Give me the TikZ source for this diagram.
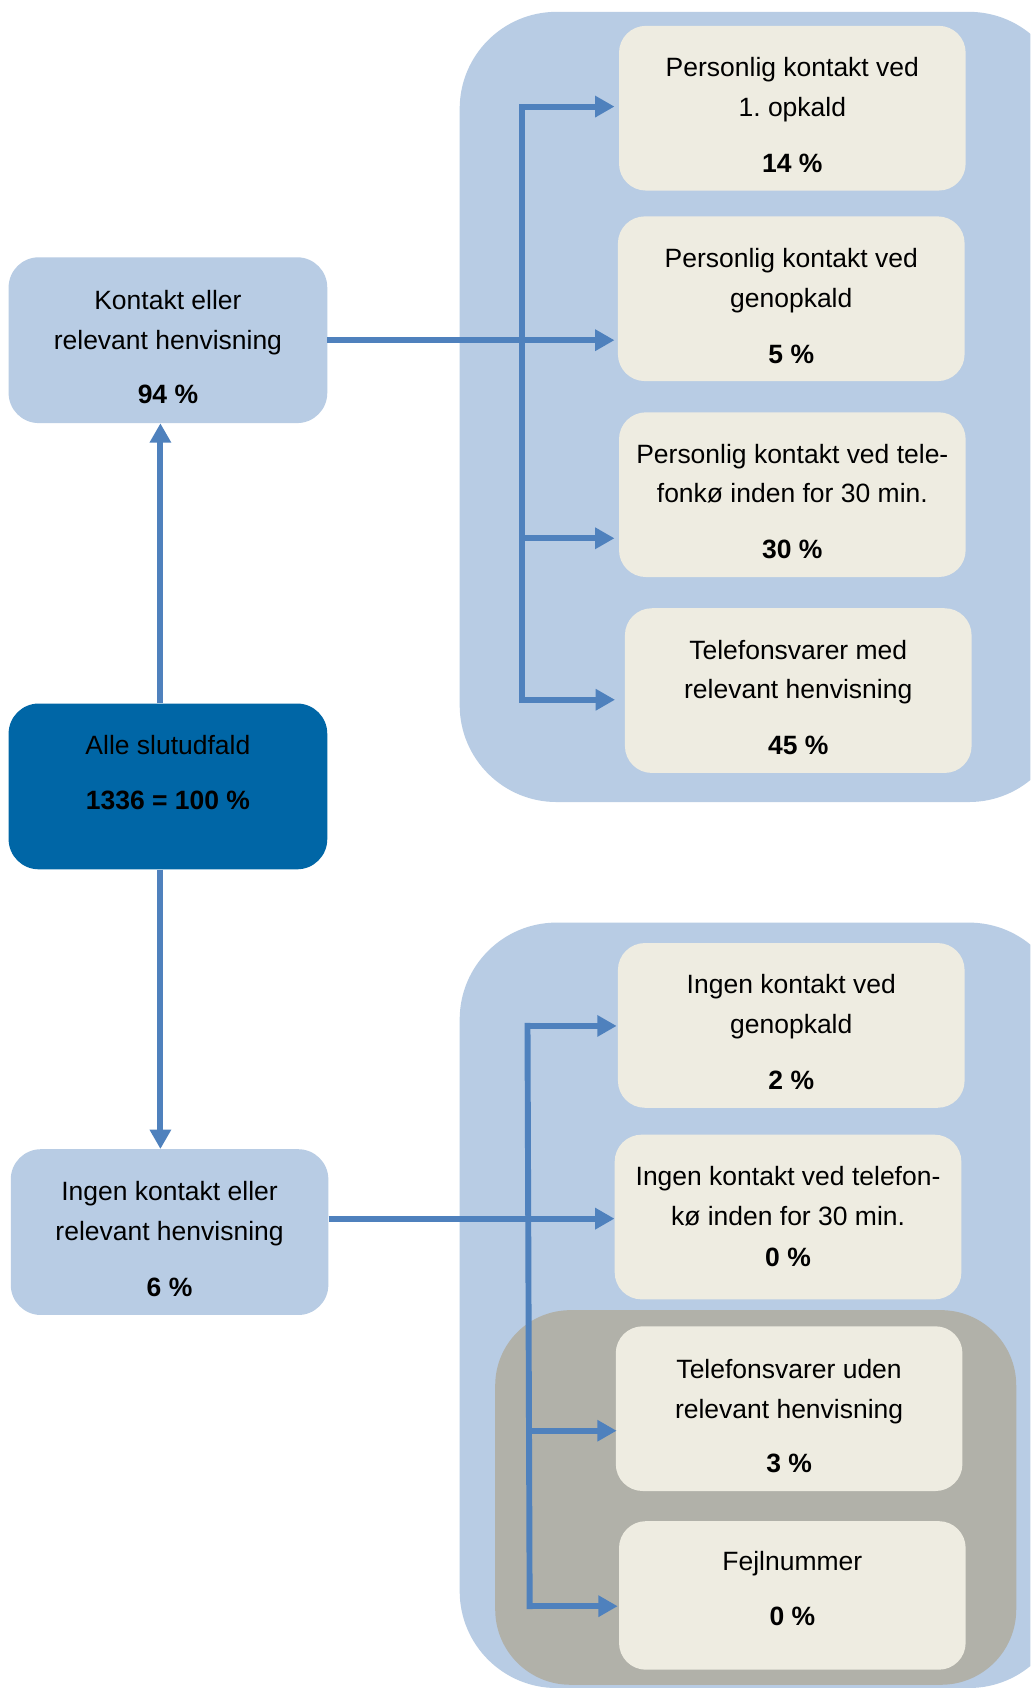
\documentclass[tikz,border=0pt]{standalone}
\usepackage{fontspec}
\setmainfont{Liberation Sans}
\usetikzlibrary{arrows.meta,calc}
\definecolor{panelblue}{HTML}{B8CCE4}
\definecolor{darkblue}{HTML}{0066A6}
\definecolor{beige}{HTML}{EEECE1}
\definecolor{greypanel}{HTML}{B1B1A9}
\definecolor{linkblue}{HTML}{4F81BD}
\newcommand\mystrut{\rule{0pt}{20pt}}
\frenchspacing
\begin{document}
\begin{tikzpicture}[x=1pt,y=-1pt,
  rbox/.style={rectangle, rounded corners=25pt, minimum width=322pt, minimum height=153pt, inner sep=0pt, fill=beige},
  lbox/.style={rectangle, rounded corners=28pt, minimum width=296pt, minimum height=154pt, inner sep=0pt, fill=panelblue},
  txt/.style={anchor=north, align=center, inner sep=0pt, yshift=-2.5pt, font=\fontsize{24.6}{37}\selectfont},
  link/.style={draw=linkblue, line width=5.5pt},
  conn/.style={link, -{Triangle[length=18pt,width=19pt]}},
]
\clip (0,0) rectangle (957,1568);
\fill[white] (0,0) rectangle (957,1568);
% panels
\fill[panelblue, rounded corners=90pt] (427,11) rectangle (990,745);
\fill[panelblue, rounded corners=90pt] (427,857) rectangle (990,1568);
\fill[greypanel, rounded corners=70pt] (460,1217) rectangle (944,1565);
% left boxes
\node[lbox] (K) at (156,316) {};
\node[lbox, fill=darkblue] (A) at (156,730.5) {};
\node[lbox, minimum width=295pt] (I) at (157.5,1144.5) {};
% right boxes
\node[rbox] (b1) at (736,100.5) {};
\node[rbox] (b2) at (735,277.5) {};
\node[rbox] (b3) at (736,459.5) {};
\node[rbox] (b4) at (741.5,641.5) {};
\node[rbox] (b5) at (735,952.5) {};
\node[rbox] (b6) at (732,1130.5) {};
\node[rbox] (b7) at (733,1308.5) {};
\node[rbox, minimum height=138pt] (b8) at (736,1482) {};
% texts
\node[txt] (tK) at (156,264.5) {\mystrut Kontakt eller\\relevant henvisning\\[14pt]\textbf{94 \%}};
\node[txt] (tA) at (156,678.5) {\mystrut Alle slutudfald\\[14pt]\textbf{1336 = 100 \%}};
\node[txt] (tI) at (157.5,1092.5) {\mystrut Ingen kontakt eller\\relevant henvisning\\[15pt]\textbf{6 \%}};
\node[txt] (t1) at (736,48.5) {\mystrut Personlig kontakt ved\\1. opkald\\[15pt]\textbf{14 \%}};
\node[txt] (t2) at (735,225.5) {\mystrut Personlig kontakt ved\\genopkald\\[15pt]\textbf{5 \%}};
\node[txt] (t3) at (736,407.5) {\mystrut Personlig kontakt ved tele-\\fonkø inden for 30 min.\\[15pt]\textbf{30 \%}};
\node[txt] (t4) at (741.5,589.5) {\mystrut Telefonsvarer med\\relevant henvisning\\[15pt]\textbf{45 \%}};
\node[txt] (t5) at (735,900.5) {\mystrut Ingen kontakt ved\\genopkald\\[15pt]\textbf{2 \%}};
\node[txt] (t6) at (732,1078.5) {\mystrut Ingen kontakt ved telefon-\\kø inden for 30 min.\\[1pt]\textbf{0 \%}};
\node[txt] (t7) at (733,1257.5) {\mystrut Telefonsvarer uden\\relevant henvisning\\[14pt]\textbf{3 \%}};
\node[txt] (t8) at (736,1436.5) {\mystrut Fejlnummer\\[14pt]\textbf{0 \%}};
% top connectors
\coordinate (ts1) at (485,99);
\coordinate (ts3) at (485,500);
\coordinate (ts4) at (485,650);
\draw[link, line cap=rect] (ts1) -- (ts4);
\draw[conn] (ts1) -- ($(ts1 -| b1.west)+(-4,0)$);
\draw[conn] (K.east) -- ($(K.east -| b2.west)+(-3,0)$);
\draw[conn] (ts3) -- ($(ts3 -| b3.west)+(-4,0)$);
\draw[conn] (ts4) -- ($(ts4 -| b4.west)+(-9,0)$);
% vertical connectors
\draw[conn] ($(A.north)+(-7,0)$) -- ($(K.south)+(-7,0)$);
\draw[conn] ($(A.south)+(-7,0)$) -- ($(I.north)+(-8.5,0)$);
% bottom connectors
\coordinate (bs1) at (490,953);
\coordinate (bs3) at (492,1329);
\coordinate (bs4) at (492,1492);
\coordinate (iout) at ($(I.east)+(0,-12.5)$);
\draw[link, line cap=rect] (bs1) -- (bs4);
\draw[conn] (bs1) -- ($(bs1 -| b5.west)+(-1,0)$);
\draw[conn] (iout) -- (iout -| b6.west);
\draw[conn] (bs3) -- ($(bs3 -| b7.west)+(1,0)$);
\draw[conn] (bs4) -- ($(bs4 -| b8.west)+(-1,0)$);
\end{tikzpicture}
\end{document}
